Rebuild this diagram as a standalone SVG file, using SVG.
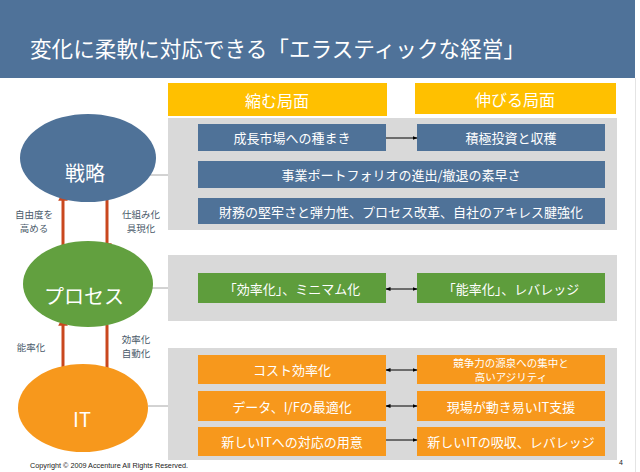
<svg xmlns="http://www.w3.org/2000/svg" width="640" height="472" viewBox="0 0 640 472">
<defs>
<style>
text{font-family:"Noto Sans CJK JP","Liberation Sans",sans-serif;text-anchor:middle;dominant-baseline:central}
.w{fill:#fff}
.bx{font-size:13px}
.hd{font-size:16px}
.lb{font-size:9.5px;fill:#4a5a6a}
.el{font-size:20px;fill:#fff}
.blue{fill:#4F7298}
.green{fill:#5E9D3C}
.orange{fill:#F7981C}
.panel{fill:#D9D9D9}
.yel{fill:#FFC000}
.red{stroke:#C9471E;stroke-width:3;fill:none}
.blk{stroke:#000;stroke-width:1;fill:none}
.gl{stroke:#A6A6A6;stroke-width:1;fill:none}
</style>
<marker id="ah" viewBox="0 0 10 10" refX="9" refY="5" markerWidth="5" markerHeight="5" orient="auto-start-reverse">
<path d="M0,1 L10,5 L0,9 z" fill="#000"/>
</marker>
<marker id="rah" viewBox="0 0 10 10" refX="8" refY="5" markerWidth="3.2" markerHeight="3.2" orient="auto-start-reverse">
<path d="M0,0 L10,5 L0,10 z" fill="#C9471E"/>
</marker>
</defs>
<rect width="640" height="472" fill="#fff"/>
<g id="title">
<rect x="0" y="0" width="635" height="78" fill="#4F7299"/>
<text x="30" y="47" class="w" style="text-anchor:start;font-size:21.5px" textLength="495" lengthAdjust="spacingAndGlyphs">変化に柔軟に対応できる「エラスティックな経営」</text>
</g>
<line x1="635.5" y1="78" x2="635.5" y2="472" stroke="#E4E4E4" stroke-width="1"/>
<g id="header-shrink"><rect x="168" y="83" width="219" height="33" class="yel"/><text x="277" y="100" class="w hd">縮む局面</text></g>
<g id="header-grow"><rect x="415" y="83" width="201" height="31" class="yel"/><text x="515" y="99" class="w hd">伸びる局面</text></g>
<g id="panel-strategy"><rect x="168" y="118" width="449" height="112" class="panel"/></g>
<g id="panel-process"><rect x="168" y="255" width="449" height="66" class="panel"/></g>
<g id="panel-it"><rect x="168" y="348" width="449" height="112" class="panel"/></g>
<g id="s1"><rect x="198" y="124" width="188" height="27" class="blue"/><text x="292" y="137.5" class="w bx">成長市場への種まき</text></g>
<g id="s2"><rect x="417" y="124" width="188" height="27" class="blue"/><text x="511" y="137.5" class="w bx">積極投資と収穫</text></g>
<g id="s3"><rect x="198" y="161" width="407" height="27" class="blue"/><text x="401" y="174.5" class="w bx">事業ポートフォリオの進出/撤退の素早さ</text></g>
<g id="s4"><rect x="198" y="198" width="407" height="26" class="blue"/><text x="401" y="211" class="w bx">財務の堅牢さと弾力性、プロセス改革、自社のアキレス腱強化</text></g>
<g id="p1"><rect x="198" y="273" width="188" height="30" class="green"/><text x="292" y="288" class="w bx">「効率化」、ミニマム化</text></g>
<g id="p2"><rect x="417" y="273" width="188" height="30" class="green"/><text x="511" y="288" class="w bx">「能率化」、レバレッジ</text></g>
<g id="i1"><rect x="198" y="355" width="188" height="29" class="orange"/><text x="292" y="369.5" class="w bx">コスト効率化</text></g>
<g id="i2"><rect x="417" y="355" width="188" height="29" class="orange"/><text x="511" y="362" class="w" style="font-size:10.5px">競争力の源泉への集中と</text><text x="511" y="376" class="w" style="font-size:10.5px">高いアジリティ</text></g>
<g id="i3"><rect x="198" y="391" width="188" height="30" class="orange"/><text x="292" y="406" class="w bx">データ、I/Fの最適化</text></g>
<g id="i4"><rect x="417" y="391" width="188" height="30" class="orange"/><text x="511" y="406" class="w bx">現場が動き易いIT支援</text></g>
<g id="i5"><rect x="198" y="427" width="188" height="29" class="orange"/><text x="292" y="441.5" class="w bx">新しいITへの対応の用意</text></g>
<g id="i6"><rect x="417" y="427" width="188" height="29" class="orange"/><text x="511" y="441.5" class="w bx">新しいITの吸収、レバレッジ</text></g>
<g id="connectors">
<line x1="150" y1="175" x2="168" y2="175" class="gl"/>
<line x1="152" y1="288" x2="168" y2="288" class="gl"/>
<line x1="148" y1="406" x2="168" y2="406" class="gl"/>
<line x1="386" y1="138" x2="417" y2="138" class="blk" marker-end="url(#ah)"/>
<line x1="386" y1="289" x2="417" y2="289" class="blk" marker-start="url(#ah)" marker-end="url(#ah)"/>
<line x1="386" y1="370" x2="417" y2="370" class="blk" marker-start="url(#ah)" marker-end="url(#ah)"/>
<line x1="386" y1="406" x2="417" y2="406" class="blk" marker-start="url(#ah)" marker-end="url(#ah)"/>
<line x1="386" y1="440" x2="417" y2="440" class="blk" marker-end="url(#ah)"/>
<line x1="63" y1="258" x2="63" y2="193" class="red" marker-end="url(#rah)"/>
<line x1="107" y1="196" x2="107" y2="251" class="red" marker-end="url(#rah)"/>
<line x1="63" y1="377" x2="63" y2="318" class="red" marker-end="url(#rah)"/>
<line x1="107" y1="325" x2="107" y2="378" class="red" marker-end="url(#rah)"/>
<text x="34" y="214" class="lb">自由度を</text>
<text x="34" y="228" class="lb">高める</text>
<text x="141" y="214" class="lb">仕組み化</text>
<text x="141" y="228" class="lb">具現化</text>
<text x="31" y="347" class="lb">能率化</text>
<text x="136" y="339" class="lb">効率化</text>
<text x="136" y="353" class="lb">自動化</text>
</g>
<g id="strategy"><ellipse cx="88" cy="158" rx="68" ry="44" fill="#4F7298"/><text x="85" y="172" class="el">戦略</text></g>
<g id="process"><ellipse cx="88" cy="284" rx="65" ry="43" fill="#62A03F"/><text x="84" y="295" class="el">プロセス</text></g>
<g id="it"><ellipse cx="83" cy="408" rx="65" ry="44" fill="#F7981C"/><text x="82" y="418" class="el">IT</text></g>
<text x="30" y="465" style="text-anchor:start;font-family:'Liberation Sans',sans-serif;font-size:7px;fill:#222" textLength="158" lengthAdjust="spacingAndGlyphs">Copyright © 2009 Accenture  All Rights Reserved.</text>
<text x="621" y="462" style="font-family:'Liberation Sans',sans-serif;font-size:7px;fill:#222">4</text>
</svg>
